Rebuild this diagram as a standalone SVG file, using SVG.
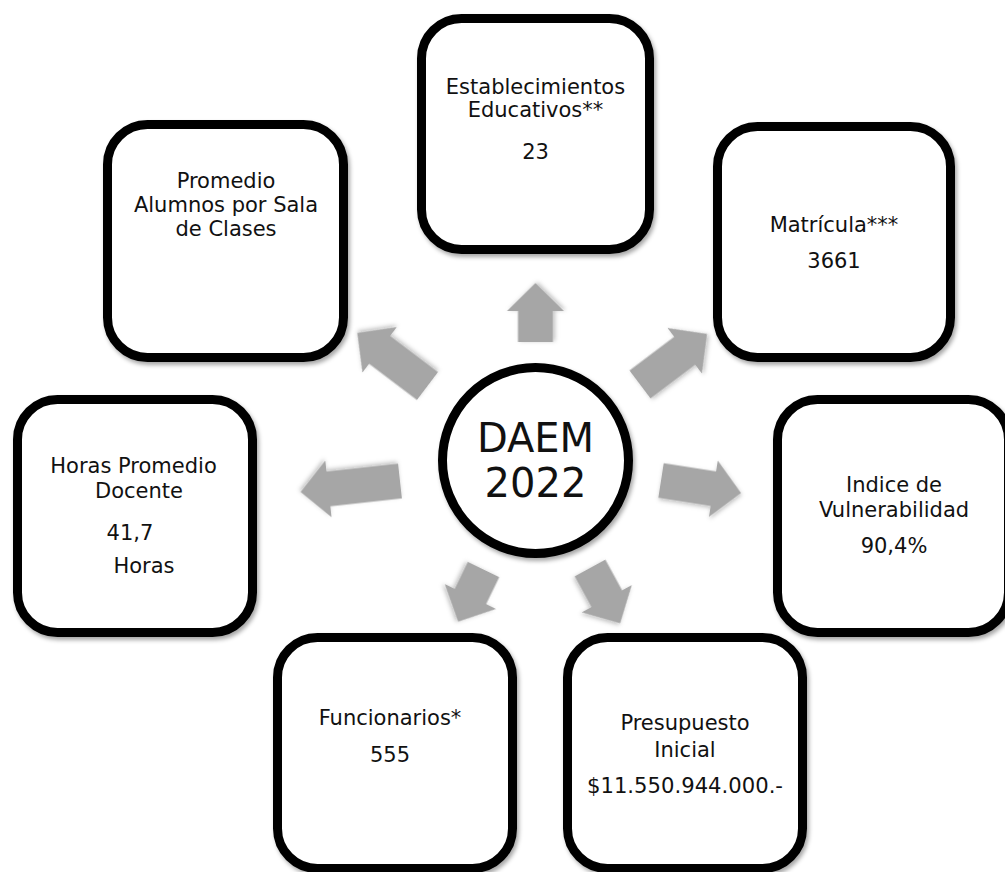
<svg xmlns="http://www.w3.org/2000/svg" width="1005" height="872" viewBox="0 0 1005 872">
<style>
.box{fill:#fff;stroke:#000;stroke-width:9;filter:url(#sh)}
.arr{fill:#a6a6a6;filter:url(#ash)}
text{font-family:"DejaVu Sans","Open Sans",sans-serif;font-size:21px;fill:#111;text-anchor:middle}
.big{font-size:40px}
</style>
<defs>
<filter id="sh" x="-10%" y="-10%" width="125%" height="125%"><feDropShadow dx="2" dy="3" stdDeviation="2" flood-color="#000" flood-opacity="0.35"/></filter>
<filter id="ash" x="-20%" y="-20%" width="150%" height="150%"><feDropShadow dx="1" dy="2" stdDeviation="2" flood-color="#000" flood-opacity="0.25"/></filter>
</defs>
<rect width="1005" height="872" fill="#fff"/>
<g id="connectors">
<path class="arr" d="M0,-17.5H31V-28.5L59,0L31,28.5V17.5H0Z" transform="translate(535.5,342) rotate(-90)"/>
<path class="arr" d="M0,-17.5H60V-28.5L88,0L60,28.5V17.5H0Z" transform="translate(427.5,386) rotate(-142.9)"/>
<path class="arr" d="M0,-17.5H56V-28.5L84,0L56,28.5V17.5H0Z" transform="translate(640,384.5) rotate(-37)"/>
<path class="arr" d="M0,-17.5H53V-28.5L81,0L53,28.5V17.5H0Z" transform="translate(661,480.5) rotate(8.9)"/>
<path class="arr" d="M0,-17.5H72V-28.5L100,0L72,28.5V17.5H0Z" transform="translate(400,481) rotate(173.7)"/>
<path class="arr" d="M0,-17.5H30V-28.5L58,0L30,28.5V17.5H0Z" transform="translate(483.5,569.5) rotate(115.9)"/>
<path class="arr" d="M0,-17.5H35V-28.5L63,0L35,28.5V17.5H0Z" transform="translate(590,568) rotate(61.4)"/>
</g>
<g id="center">
<circle cx="535.5" cy="460.5" r="93" fill="#fff" stroke="#000" stroke-width="9" filter="url(#sh)"/>
<text class="big" x="535.5" y="452">DAEM</text>
<text class="big" x="535.5" y="497">2022</text>
</g>
<g id="establecimientos">
<rect class="box" x="421.5" y="18.5" width="228" height="231" rx="40"/>
<text x="535.5" y="94">Establecimientos</text>
<text x="535.5" y="117">Educativos**</text>
<text x="535.5" y="159">23</text>
</g>
<g id="promedio">
<rect class="box" x="107.5" y="124.5" width="236" height="233" rx="40"/>
<text x="226" y="188">Promedio</text>
<text x="226" y="212">Alumnos por Sala</text>
<text x="226" y="236">de Clases</text>
</g>
<g id="matricula">
<rect class="box" x="717.5" y="126.5" width="233" height="231" rx="40"/>
<text x="834" y="232">Matrícula***</text>
<text x="834" y="268">3661</text>
</g>
<g id="indice">
<rect class="box" x="777.5" y="399.5" width="231" height="233" rx="40"/>
<text x="894" y="492">Indice de</text>
<text x="894" y="517">Vulnerabilidad</text>
<text x="894" y="553">90,4%</text>
</g>
<g id="horas">
<rect class="box" x="17.5" y="399.5" width="235" height="233" rx="40"/>
<text x="133.5" y="473">Horas Promedio</text>
<text x="139" y="498">Docente</text>
<text x="130" y="540">41,7</text>
<text x="144" y="573">Horas</text>
</g>
<g id="funcionarios">
<rect class="box" x="277.5" y="637.5" width="235" height="231" rx="40"/>
<text x="390" y="725">Funcionarios*</text>
<text x="390" y="762">555</text>
</g>
<g id="presupuesto">
<rect class="box" x="567.5" y="637.5" width="235" height="231" rx="40"/>
<text x="685" y="730">Presupuesto</text>
<text x="685" y="757">Inicial</text>
<text x="685" y="793" textLength="196" lengthAdjust="spacingAndGlyphs">$11.550.944.000.-</text>
</g>
</svg>
